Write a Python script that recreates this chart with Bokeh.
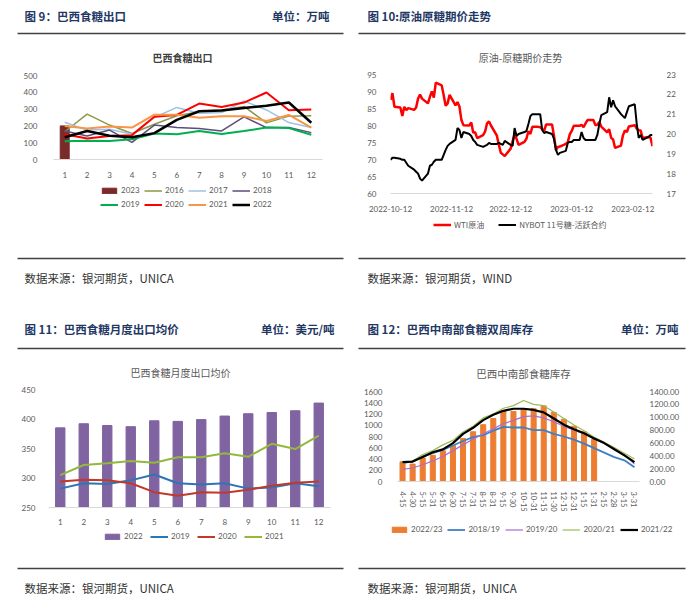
import pandas as pd
from bokeh.plotting import figure
from bokeh.layouts import column, row
from bokeh.models import (Range1d, FactorRange, LinearAxis, FixedTicker, Legend, LegendItem,
                          DatetimeTickFormatter, PrintfTickFormatter)
from bokeh.core.properties import value
from bokeh.embed import file_html
from bokeh.resources import INLINE

CJK = "Noto Sans CJK SC"
NUM = "Lato"
GRAY = "#595959"
NAVY = "#1f3864"
RULE = "#404040"
NAN = float("nan")

# ---------------- Panel 1: Brazil sugar exports (10k t) ----------------
months = [1, 2, 3, 4, 5, 6, 7, 8, 9, 10, 11, 12]
exp_2023_months = [1]
exp_2023 = [200]
exp_2016 = [165, 270, 205, 155, 210, 260, 285, 295, 316, 218, 258, 260]
exp_2017 = [222, 175, 180, 150, 250, 310, 275, 280, 348, 295, 220, 190]
exp_2018 = [170, 140, 175, 102, 205, 190, 185, 170, 254, 190, 190, 160]
exp_2019 = [108, 112, 110, 120, 155, 150, 170, 152, 170, 190, 187, 147]
exp_2020 = [150, 125, 140, 145, 255, 265, 333, 312, 339, 399, 293, 298]
exp_2021 = [200, 184, 197, 190, 267, 267, 248, 258, 258, 229, 265, 190]
exp_2022 = [132, 170, 141, 132, 157, 236, 287, 292, 306, 320, 339, 219]

# ---------------- Panel 2: WTI vs NYBOT No.11 sugar ----------------
px_dates = pd.bdate_range("2022-10-12", "2023-02-22")
wti = [87.5, 89.5, 85.5,
       85.3, 82.8, 85.5, 84.5, 85.1,
       84.6, 85.3, 87.9, 89.1, 87.9,
       86.5, 88.4, 90.0, 88.2, 92.6,
       91.8, 88.9, 85.8, 86.5, 89.0,
       85.9, 86.9, 85.6, 81.6, 80.1,
       80.0, 80.9, 77.9, 78.0, 76.3,
       77.2, 78.2, 80.6, 81.2, 80.0,
       77.0, 74.3, 72.0, 71.5, 71.0,
       73.2, 75.4, 77.3, 76.1, 74.3,
       75.2, 76.1, 78.3, 77.5, 79.6,
       79.6, 79.5, 78.9, 78.4, 80.3,
       80.3, 76.9, 72.8, 73.7, 73.8,
       74.6, 75.1, 77.4, 78.4, 79.9,
       79.9, 80.2, 79.5, 80.6, 81.6,
       81.6, 80.1, 80.2, 81.0, 79.7,
       78.0, 78.9, 76.4, 75.9, 73.4,
       74.1, 77.1, 78.5, 78.1, 79.7,
       80.1, 79.1, 78.6, 78.5, 76.3,
       76.6, 76.4, 73.9]
sugar = [18.70, 18.80, 18.80,
         18.75, 18.70, 18.70, 18.55, 18.40,
         18.20, 18.10, 18.00, 17.75, 17.65,
         18.00, 18.40, 18.45, 18.60, 18.70,
         18.70, 18.95, 19.20, 19.40, 19.50,
         19.70, 20.30, 20.20, 19.80, 20.10,
         20.00, 19.90, 19.70, 19.60, 19.45,
         19.35, 19.40, 19.45, 19.55, 19.50,
         19.50, 19.55, 19.50, 19.45, 19.65,
         19.45, 19.40, 20.30, 19.90, 20.00,
         20.10, 20.15, 20.50, 20.90, 21.00,
         21.00, 21.00, 20.20, 20.05, 20.10,
         20.00, 19.75, 19.20, 18.95, 19.05,
         19.15, 19.55, 19.60, 19.60, 19.70,
         19.70, 20.10, 19.80, 19.70, 19.70,
         19.70, 19.70, 19.95, 20.50, 20.95,
         21.10, 21.85, 21.35, 21.70, 21.40,
         21.00, 20.90, 20.80, 21.10, 21.40,
         21.50, 20.50, 19.80, 19.95, 19.70,
         19.85, 19.95, 19.95]
date_ticks = ["2022-10-12", "2022-11-12", "2022-12-12", "2023-01-12", "2023-02-12"]

# ---------------- Panel 3: monthly average export price (USD/t) ----------------
price_2022 = [385, 392, 389, 387, 397, 396, 399, 405, 409, 411, 414, 427]
price_2019 = [282, 291, 290, 296, 306, 291, 289, 291, 282, 284, 291, 286]
price_2020 = [294, 297, 296, 291, 276, 270, 276, 275, 280, 287, 292, 294]
price_2021 = [305, 322, 325, 329, 326, 335, 335, 342, 336, 358, 349, 372]

# ---------------- Panel 4: centre-south bi-weekly stocks (10k t) ----------------
periods = ["4-15", "4-30", "5-15", "5-31", "6-15", "6-30", "7-15", "7-31", "8-15", "8-31",
           "9-15", "9-30", "10-15", "10-31", "11-15", "11-30", "12-15", "12-31", "1-15", "1-31",
           "2-15", "2-28", "3-15", "3-31"]
stock_2223 = [350, 310, 420, 465, 546, 640, 765, 885, 1010, 1120,
              1256, 1245, 1283, 1294, 1345, 1229, 1108, 983, 885, 748]
stock_1819 = [290, 310, 390, 440, 490, 560, 630, 690, 720, 790, 850, 840,
              840, 800, 800, 740, 700, 650, 590, 520, 450, 380, 330, 220]
stock_1920 = [190, 210, 260, 320, 390, 480, 570, 660, 740, 820, 900, 950,
              1010, 1020, 990, 930, 860, 800, 740, 670, 590, 510, 420, 270]
stock_2021 = [280, 320, 420, 480, 570, 640, 770, 860, 990, 1050, 1140, 1180,
              1260, 1200, 1180, 1080, 980, 880, 790, 690, 610, 530, 440, 350]
stock_2122 = [300, 310, 382, 454, 500, 597, 740, 836, 955, 1037, 1099, 1132,
              1132, 1113, 1075, 980, 884, 812, 750, 669, 597, 502, 406, 301]


# ---------------- helpers ----------------
def deco(width, height, texts, segs):
    f = figure(width=width, height=height, x_range=Range1d(0, width), y_range=Range1d(height, 0),
               output_backend="svg", toolbar_location=None, min_border=0,
               x_axis_location=None, y_axis_location=None, frame_align=False)
    f.grid.visible = False
    f.outline_line_color = None
    for (x, y, t, size, style, color, align) in texts:
        f.text(x=[x], y=[y], text=[t], text_font=value(CJK), text_font_size=size,
               text_font_style=style, text_color=color, text_align=align, text_baseline="middle")
    for (x0, x1, y) in segs:
        f.segment(x0=[x0], y0=[y], x1=[x1], y1=[y], line_color=RULE, line_width=1.6)
    return f


def base_fig(height, x_range, y_range, mt, mb, ml, mr, **kw):
    p = figure(width=350, height=height, x_range=x_range, y_range=y_range,
               output_backend="svg", toolbar_location=None, frame_align=False,
               min_border_top=mt, min_border_bottom=mb, min_border_left=ml, min_border_right=mr, **kw)
    p.outline_line_color = None
    p.xgrid.visible = False
    p.ygrid.visible = False
    return p


def style_axis(ax, size="8px", line=None, standoff=6, font=NUM):
    ax.major_tick_line_color = None
    ax.minor_tick_line_color = None
    ax.axis_line_color = line
    ax.major_label_text_font = font
    ax.major_label_text_font_size = size
    ax.major_label_text_color = GRAY
    ax.major_label_standoff = standoff


def key(f, entries, x, y_top, font=NUM, spacing=3):
    """Legend row drawn in a footer figure; its swatch renderers hold only NaN (nothing drawn)."""
    items = []
    for label, kind, color, width in entries:
        if kind == "bar":
            r = f.vbar(x=[NAN], top=[NAN], width=0.5, fill_color=color, line_color=color)
        else:
            r = f.line(x=[NAN], y=[NAN], line_color=color, line_width=width)
        items.append(LegendItem(label=label, renderers=[r]))
    H = f.height
    leg = Legend(items=items, orientation="horizontal", location=(x, H - y_top - 5),
                 label_text_font=font, label_text_font_size="8px", label_text_color=GRAY,
                 glyph_width=18, glyph_height=7, label_height=10, label_standoff=3,
                 spacing=spacing, padding=0, margin=0,
                 border_line_color=None, background_fill_alpha=0)
    f.add_layout(leg, "center")


# ---------------- Panel 1 ----------------
C16, C17, C18, C19 = "#8a9a48", "#9dc3e6", "#5f4b7d", "#00b050"
C20, C21, C22, C23 = "#ff0000", "#f79646", "#000000", "#7b2a2a"
h1 = deco(350, 66, [(24, 15.7, "图 9：巴西食糖出口", "11.5px", "bold", NAVY, "left"),
                    (329, 15.7, "单位：万吨", "11.5px", "bold", NAVY, "right"),
                    (182, 57, "巴西食糖出口", "10px", "bold", "#404040", "center")],
          [(17, 343, 33)])
p1 = base_fig(114, Range1d(0.5, 12.5), Range1d(0, 500), 9, 19, 53, 28)
p1.vbar(x=exp_2023_months, top=exp_2023, width=0.4, color=C23)
p1.line(months, exp_2016, line_color=C16, line_width=1.5)
p1.line(months, exp_2017, line_color=C17, line_width=1.5)
p1.line(months, exp_2018, line_color=C18, line_width=1.5)
p1.line(months, exp_2019, line_color=C19, line_width=2)
p1.line(months, exp_2020, line_color=C20, line_width=2)
p1.line(months, exp_2021, line_color=C21, line_width=2)
p1.line(months, exp_2022, line_color=C22, line_width=2.5)
p1.xaxis.ticker = FixedTicker(ticks=months)
p1.yaxis.ticker = FixedTicker(ticks=[0, 100, 200, 300, 400, 500])
style_axis(p1.xaxis[0], line="#d9d9d9", standoff=6)
style_axis(p1.yaxis[0], standoff=10)
f1 = deco(350, 121, [(24, 97, "数据来源：银河期货，UNICA", "11.5px", "normal", "#333333", "left")],
          [(17, 343, 78)])
key(f1, [("2023", "bar", C23, 0), ("2016", "line", C16, 1.5),
         ("2017", "line", C17, 1.5), ("2018", "line", C18, 1.5)], 100, 10)
key(f1, [("2019", "line", C19, 2), ("2020", "line", C20, 2),
         ("2021", "line", C21, 2), ("2022", "line", C22, 2.5)], 100, 24)

# ---------------- Panel 2 ----------------
h2 = deco(350, 66, [(17, 15.7, "图 10:原油原糖期价走势", "11.5px", "bold", NAVY, "left"),
                    (170, 57, "原油-原糖期价走势", "10px", "normal", GRAY, "center")],
          [(8, 335, 33)])
p2 = base_fig(148, Range1d(px_dates[0], px_dates[-1]), Range1d(60, 95), 8, 17, 40, 48,
              x_axis_type="datetime")
p2.extra_y_ranges = {"sugar": Range1d(17, 23)}
p2.line(px_dates, wti, line_color="#ff0000", line_width=2.5)
p2.line(px_dates, sugar, line_color="#000000", line_width=2, y_range_name="sugar")
ax_r = LinearAxis(y_range_name="sugar")
p2.add_layout(ax_r, "right")
p2.xaxis.ticker = FixedTicker(ticks=[pd.Timestamp(d).value // 10**6 for d in date_ticks])
fmt = "%Y-%m-%d"
p2.xaxis.formatter = DatetimeTickFormatter(milliseconds=fmt, seconds=fmt, minsec=fmt, minutes=fmt,
                                           hourmin=fmt, hours=fmt, days=fmt, months=fmt, years=fmt)
p2.yaxis[0].ticker = FixedTicker(ticks=[60, 65, 70, 75, 80, 85, 90, 95])
ax_r.ticker = FixedTicker(ticks=[17, 18, 19, 20, 21, 22, 23])
style_axis(p2.xaxis[0], line="#d9d9d9", standoff=6)
style_axis(p2.yaxis[0], standoff=8)
style_axis(ax_r, standoff=8)
f2 = deco(350, 87, [(17, 63, "数据来源：银河期货，WIND", "11.5px", "normal", "#333333", "left")],
          [(8, 335, 44)])
key(f2, [("WTI原油", "line", "#ff0000", 2.5), ("NYBOT 11号糖-活跃合约", "line", "#000000", 2)],
    83, 11, font=CJK, spacing=14)

# ---------------- Panel 3 ----------------
P22, P19, P20, P21 = "#8064a2", "#2e75b6", "#c0392b", "#92b83c"
h3 = deco(350, 79, [(24, 27, "图 11：巴西食糖月度出口均价", "11.5px", "bold", NAVY, "left"),
                    (334, 27, "单位：美元/吨", "11.5px", "bold", NAVY, "right"),
                    (180, 71, "巴西食糖月度出口均价", "10px", "normal", GRAY, "center")],
          [(17, 343, 47)])
p3 = base_fig(147, Range1d(0.5, 12.5), Range1d(250, 450), 9, 19, 48, 20)
p3.vbar(x=months, top=price_2022, bottom=250, width=0.4, color=P22)
p3.line(months, price_2019, line_color=P19, line_width=2)
p3.line(months, price_2020, line_color=P20, line_width=2)
p3.line(months, price_2021, line_color=P21, line_width=2)
p3.xaxis.ticker = FixedTicker(ticks=months)
p3.yaxis.ticker = FixedTicker(ticks=[250, 300, 350, 400, 450])
style_axis(p3.xaxis[0], line="#d9d9d9", standoff=5)
style_axis(p3.yaxis[0], standoff=7)
f3 = deco(350, 75, [(24, 60, "数据来源：银河期货，UNICA", "11.5px", "normal", "#333333", "left")],
          [(17, 343, 41)])
key(f3, [("2022", "bar", P22, 0), ("2019", "line", P19, 2),
         ("2020", "line", P20, 2), ("2021", "line", P21, 2)], 103, 9, spacing=6)

# ---------------- Panel 4 ----------------
S23, S19, S20, S21, S22 = "#ed7d31", "#3f7fc4", "#a46fd0", "#9bbb59", "#000000"
h4 = deco(350, 79, [(17, 27, "图 12：巴西中南部食糖双周库存", "11.5px", "bold", NAVY, "left"),
                    (328, 27, "单位：万吨", "11.5px", "bold", NAVY, "right"),
                    (173, 72, "巴西中南部食糖库存", "10.5px", "normal", GRAY, "center")],
          [(8, 335, 47)])
p4 = base_fig(134, FactorRange(*periods), Range1d(0, 1600), 11, 26, 47, 61)
p4.extra_y_ranges = {"r": Range1d(0, 1400)}
p4.vbar(x=periods[:len(stock_2223)], top=stock_2223, width=0.5, color=S23)
p4.line(periods, stock_1819, line_color=S19, line_width=1.8, y_range_name="r")
p4.line(periods, stock_1920, line_color=S20, line_width=1.2, y_range_name="r")
p4.line(periods, stock_2021, line_color=S21, line_width=1.2, y_range_name="r")
p4.line(periods, stock_2122, line_color=S22, line_width=2.2, y_range_name="r")
ax4r = LinearAxis(y_range_name="r")
p4.add_layout(ax4r, "right")
p4.yaxis[0].ticker = FixedTicker(ticks=list(range(0, 1601, 200)))
ax4r.ticker = FixedTicker(ticks=list(range(0, 1401, 200)))
ax4r.formatter = PrintfTickFormatter(format="%.2f")
style_axis(p4.xaxis[0], size="7.5px", line="#d9d9d9", standoff=4)
p4.xaxis[0].major_label_orientation = "vertical"
style_axis(p4.yaxis[0], standoff=9)
style_axis(ax4r, standoff=4)
f4 = deco(350, 88, [(17, 73, "数据来源：银河期货，UNICA", "11.5px", "normal", "#333333", "left")],
          [(8, 335, 54)])
key(f4, [("2022/23", "bar", S23, 0), ("2018/19", "line", S19, 1.8),
         ("2019/20", "line", S20, 1.2), ("2020/21", "line", S21, 1.2),
         ("2021/22", "line", S22, 2.2)], 40, 15, spacing=5)

page = row(column(h1, p1, f1, h3, p3, f3), column(h2, p2, f2, h4, p4, f4))
open("out.html", "w").write(file_html(page, INLINE))
